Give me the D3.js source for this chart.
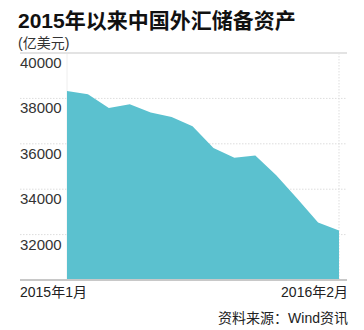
<!DOCTYPE html>
<html>
<head>
<meta charset="utf-8">
<script src="https://cdn.jsdelivr.net/npm/d3@7"></script>
<style>
  body { margin: 0; background: #fff; }
  svg { display: block; font-family: "Liberation Sans", "Noto Sans CJK SC", sans-serif; }
</style>
</head>
<body>
<div id="chart"></div>
<script>
// months from Jan 2015 to Feb 2016
const months = ["2015-01", "2015-02", "2015-03", "2015-04", "2015-05", "2015-06", "2015-07",
  "2015-08", "2015-09", "2015-10", "2015-11", "2015-12", "2016-01", "2016-02"];
// reserves, 100 million USD
const reserves = [38330, 38185, 37580, 37744, 37380, 37185, 36775,
  35820, 35380, 35485, 34617, 33590, 32533, 32181];
const yTicks = [32000, 34000, 36000, 38000, 40000];
const xTickLabels = ["2015年1月", "2016年2月"];

const W = 364, H = 330;
const plot = { left: 67, right: 339, top: 53, bottom: 280 };

const svg = d3.select("#chart").append("svg")
  .attr("width", W).attr("height", H);

const x = d3.scalePoint().domain(months).range([plot.left, plot.right]);
const y = d3.scaleLinear().domain([30000, 40000]).range([plot.bottom, plot.top]);

// title
svg.append("text")
  .attr("x", 18).attr("y", 28)
  .style("font-size", "21px").style("font-weight", "bold").style("fill", "#111")
  .text("2015年以来中国外汇储备资产");
svg.append("text")
  .attr("x", 18).attr("y", 48)
  .style("font-size", "14px").style("fill", "#333")
  .text("(亿美元)");

// grid
const grid = svg.append("g");
yTicks.filter(t => t < 40000).forEach(t => {
  grid.append("line")
    .attr("x1", 20).attr("x2", 347)
    .attr("y1", y(t)).attr("y2", y(t))
    .attr("stroke", "#ddd").attr("stroke-dasharray", "1.5,1.5");
});
grid.append("line")
  .attr("x1", plot.right).attr("x2", plot.right)
  .attr("y1", plot.top).attr("y2", plot.bottom)
  .attr("stroke", "#ddd").attr("stroke-dasharray", "1.5,1.5");
grid.append("line")
  .attr("x1", plot.left).attr("x2", plot.left)
  .attr("y1", plot.top).attr("y2", plot.bottom)
  .attr("stroke", "#eee");
grid.append("line")
  .attr("x1", 20).attr("x2", 347)
  .attr("y1", y(40000)).attr("y2", y(40000))
  .attr("stroke", "#e3e3e3").attr("stroke-width", 2);

// area
const area = d3.area()
  .x((d, i) => x(months[i]))
  .y0(y(30000))
  .y1(d => y(d));

svg.append("path")
  .datum(reserves)
  .attr("d", area)
  .attr("fill", "#5bc1cf");

// baseline
svg.append("line")
  .attr("x1", 20).attr("x2", 347)
  .attr("y1", plot.bottom).attr("y2", plot.bottom)
  .attr("stroke", "#c8c8c8").attr("stroke-width", 2);

// y labels, sitting under their gridlines
svg.append("g").selectAll("text")
  .data(yTicks)
  .enter().append("text")
    .attr("x", 20).attr("y", d => y(d) + 15)
    .style("font-size", "15px").style("fill", "#333")
    .text(d => d);

// x labels
svg.append("text")
  .attr("x", 20).attr("y", 297)
  .style("font-size", "14px").style("fill", "#222")
  .text(xTickLabels[0]);
svg.append("text")
  .attr("x", 348).attr("y", 297).attr("text-anchor", "end")
  .style("font-size", "14px").style("fill", "#222")
  .text(xTickLabels[1]);

// source
svg.append("text")
  .attr("x", 348).attr("y", 323).attr("text-anchor", "end")
  .style("font-size", "14px").style("fill", "#222")
  .text("资料来源：Wind资讯");
</script>
</body>
</html>
